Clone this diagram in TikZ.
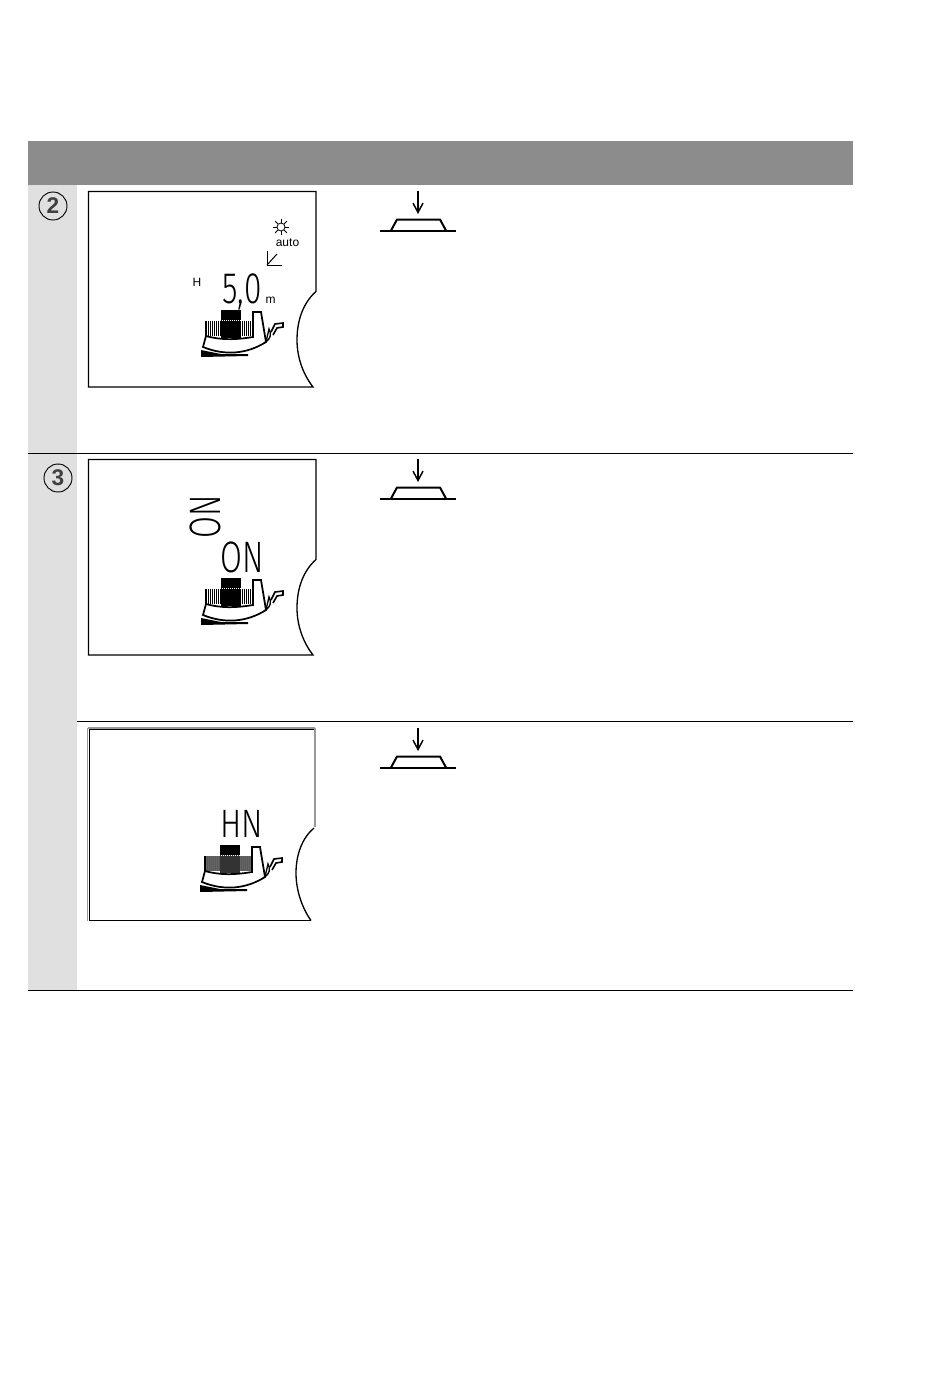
\documentclass[tikz,border=0pt]{standalone}
\usepackage{fontspec}
\setmainfont{Liberation Sans}
\newfontfamily\lcdfont[UprightFont=* Light]{Fira Sans}
\usetikzlibrary{positioning}
\usetikzlibrary{arrows.meta}
\newcommand{\lcdtext}[1]{\scalebox{0.72}[1]{\lcdfont\fontsize{33}{33}\selectfont #1}}

\tikzset{
	pics/display/.style={code={
		\draw[frameline] (0,0) -- (227.5,0) -- (227.5,100)
		.. controls (214,112) and (208.5,130) .. (208.5,148.5)
		.. controls (208.5,165) and (214,182) .. (224.5,195.5) -- (0,195.5) -- cycle;
	}},
	pics/iron/.style n args={3}{code={
		\fill[#1] (6,11) rectangle (53,26);
		\foreach \x in {6,8,...,52} {\draw[#2,line width=0.7pt] (\x,11) -- (\x,26);}
		\fill[#3] (20.5,10) rectangle (41,28);
		\fill (20.5,0) rectangle (41,10);
		\draw[white,densely dotted,line width=0.5pt] (12,10.5) -- (41,10.5);
		\draw[frameline,line width=1.3pt,fill=white] (6,26) -- (3,37)
		.. controls (25,46) and (47,44) .. (66,32) -- (61,2) -- (53,2) -- (53,27)
		.. controls (35,30) and (20,30) .. (6,26);
		\draw[frameline] (6,11) -- (6,26);
		\draw[frameline] (66,32) -- (69,19) .. controls (72,24) and (70,29) .. (66,32);
		\draw[frameline,line width=1.2pt] (71,22) -- (75,14) -- (83,13) -- (83,17) -- (77,18) -- (73,25);
		\fill (1,40) -- (21,44) -- (48,44) -- (48,46) -- (1,47) -- cycle;
	}},
	pics/button/.style={code={
		\coordinate (-top) at (0,0);
		\coordinate (-tip) at (0,23);
		\draw[arrowline] (-top) -- (-tip);
		\draw[baseline] (-38,39.5) -- (38,39.5);
		\draw[baseline] (-27,39.5) -- (-21,28.5) -- (22,28.5) -- (28,39.5);
	}},
}

\begin{document}
\begin{tikzpicture}[x=0.75pt,y=-0.75pt]
	\tikzstyle{frameline}=[draw=black,line width=1pt]
	\tikzstyle{baseline}=[draw=black,line width=1.5pt]
	\tikzstyle{arrowline}=[draw=black,line width=1.1pt,-{Straight Barb[length=7pt,width=7.5pt]}]
	\tikzstyle{rowline}=[draw=black,line width=0.75pt]
	\tikzstyle{number}=[draw=black,circle,line width=0.7pt,minimum size=21pt,inner sep=0pt,font=\bfseries\fontsize{17}{17}\selectfont,text=black!75]
	\tikzstyle{small}=[inner sep=0pt,font=\fontsize{9}{9}\selectfont]
	\tikzstyle{lcd}=[inner sep=0pt,anchor=base]

	\useasboundingbox (0,0) rectangle (950,1381);

	% bands
	\fill[black!45] (28,141) rectangle (853,185);
	\fill[black!12] (28,185) rectangle (77,990);
	\draw[rowline] (28,453.5) -- (853,453.5);
	\draw[rowline] (77,721.5) -- (853,721.5);
	\draw[rowline] (28,990.5) -- (853,990.5);

	\node[number] (N_2) at (53,206) {2};
	\node[number] (N_3) at (58,478) {3};

	% first row
	\pic at (88.5,191.5) {display};
	\pic at (200,310) {iron={white}{black}{black}};
	\pic (B_2) at (418,191) {button};
	\node[small] (H_2) at (197,282) {H};
	\node[small] (A_2) at (287.5,243) {auto};
	\node[small] (M_2) at (270.5,300) {m};
	\node[lcd] (V_2) at (242,303) {\lcdtext{5,0}};
	\node[draw,circle,line width=0.6pt,minimum size=6pt,inner sep=0pt] (S_2) at (281,227) {};
	\foreach \a in {0,45,...,315} {
		\draw[line width=0.6pt] (S_2.\a) -- ++(-\a:4);
	}
	\draw[line width=0.75pt] (267,251) -- (267,265) -- (282,265);
	\draw[line width=0.75pt] (267,265) -- (277,254);

	% second row
	\pic at (88.5,459.5) {display};
	\pic at (200,578) {iron={white}{black}{black}};
	\pic (B_3) at (418,459) {button};
	\node[lcd] (V_3) at (242.5,572) {\lcdtext{ON}};
	\node[lcd,rotate=90] (R_3) at (220,517) {\lcdtext{ON}};

	% third row
	\draw[black!40,line width=1.5pt] (88,728) -- (315,728);
	\draw[black!40,line width=1pt] (315,728) -- (315,827);
	\draw[black!40,line width=1pt] (87.5,728) -- (87.5,921);
	\draw[frameline,line width=0.75pt] (89,729.5) -- (314,729.5);
	\draw[frameline,line width=0.75pt] (89,729.5) -- (89,920.5) -- (311,920.5);
	\draw[frameline] (314,828) .. controls (302,838) and (296,855) .. (296,873)
	.. controls (296,890) and (302,908) .. (311,920.5);
	\pic at (199,845) {iron={black!60}{black!65}{black!80}};
	\pic (B_4) at (418,728) {button};
	\node[lcd,yscale=0.9] (V_4) at (242,837) {\lcdtext{HN}};
\end{tikzpicture}
\end{document}
